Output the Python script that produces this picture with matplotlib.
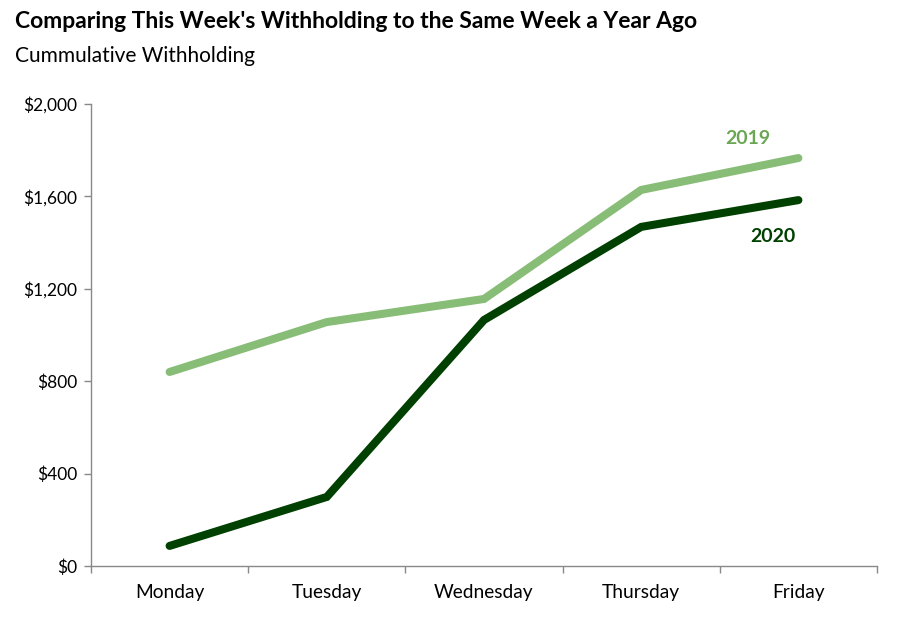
import matplotlib
matplotlib.use("Agg")
import matplotlib.pyplot as plt
import numpy as np

days = ["Monday", "Tuesday", "Wednesday", "Thursday", "Friday"]
w2019 = [840, 1056, 1156, 1628, 1766]
w2020 = [87, 299, 1065, 1468, 1584]
yticks = [0, 400, 800, 1200, 1600, 2000]
ytick_labels = ["$0", "$400", "$800", "$1,200", "$1,600", "$2,000"]

plt.rcParams['font.family'] = ['Lato', 'DejaVu Sans']

fig = plt.figure(figsize=(9, 6.3), dpi=100)
ax = fig.add_axes([91/900, 1-566/630, (877-91)/900, (566-104)/630])

x = np.arange(len(days))
c19 = "#88BD77"
c20 = "#004000"
ax.plot(x, w2019, color=c19, lw=5.8, solid_capstyle='round', solid_joinstyle='miter')
ax.plot(x, w2020, color=c20, lw=5.8, solid_capstyle='round', solid_joinstyle='miter')

ax.set_xlim(-0.5, 4.5)
ax.set_ylim(0, 2000)
ax.set_yticks(yticks)
ax.set_yticklabels(ytick_labels)
ax.set_xticks(x)
ax.set_xticklabels(days)
ax.set_xticks(np.arange(-0.5, 5, 1), minor=True)
ax.tick_params(axis='x', which='major', length=0, pad=13, labelsize=13.8, colors='black')
ax.tick_params(axis='x', which='minor', length=5, color='#898989', width=1)
ax.tick_params(axis='y', length=5, color='#898989', width=1, pad=5, labelsize=12.5)

for s in ['top', 'right']:
    ax.spines[s].set_visible(False)
for s in ['left', 'bottom']:
    ax.spines[s].set_color('#898989')
    ax.spines[s].set_linewidth(1)

ax.text(3.68, 1850, "2019", color="#6BA653", fontsize=14, fontweight='bold', ha='center', va='center')
ax.text(3.84, 1425, "2020", color=c20, fontsize=14, fontweight='bold', ha='center', va='center')

fig.text(15/900, 1-28/630, "Comparing This Week's Withholding to the Same Week a Year Ago",
         fontsize=16.5, fontweight='bold', ha='left', va='baseline')
fig.text(15/900, 1-62/630, "Cummulative Withholding", fontsize=15, ha='left', va='baseline')

fig.savefig("out.png", dpi=100)
